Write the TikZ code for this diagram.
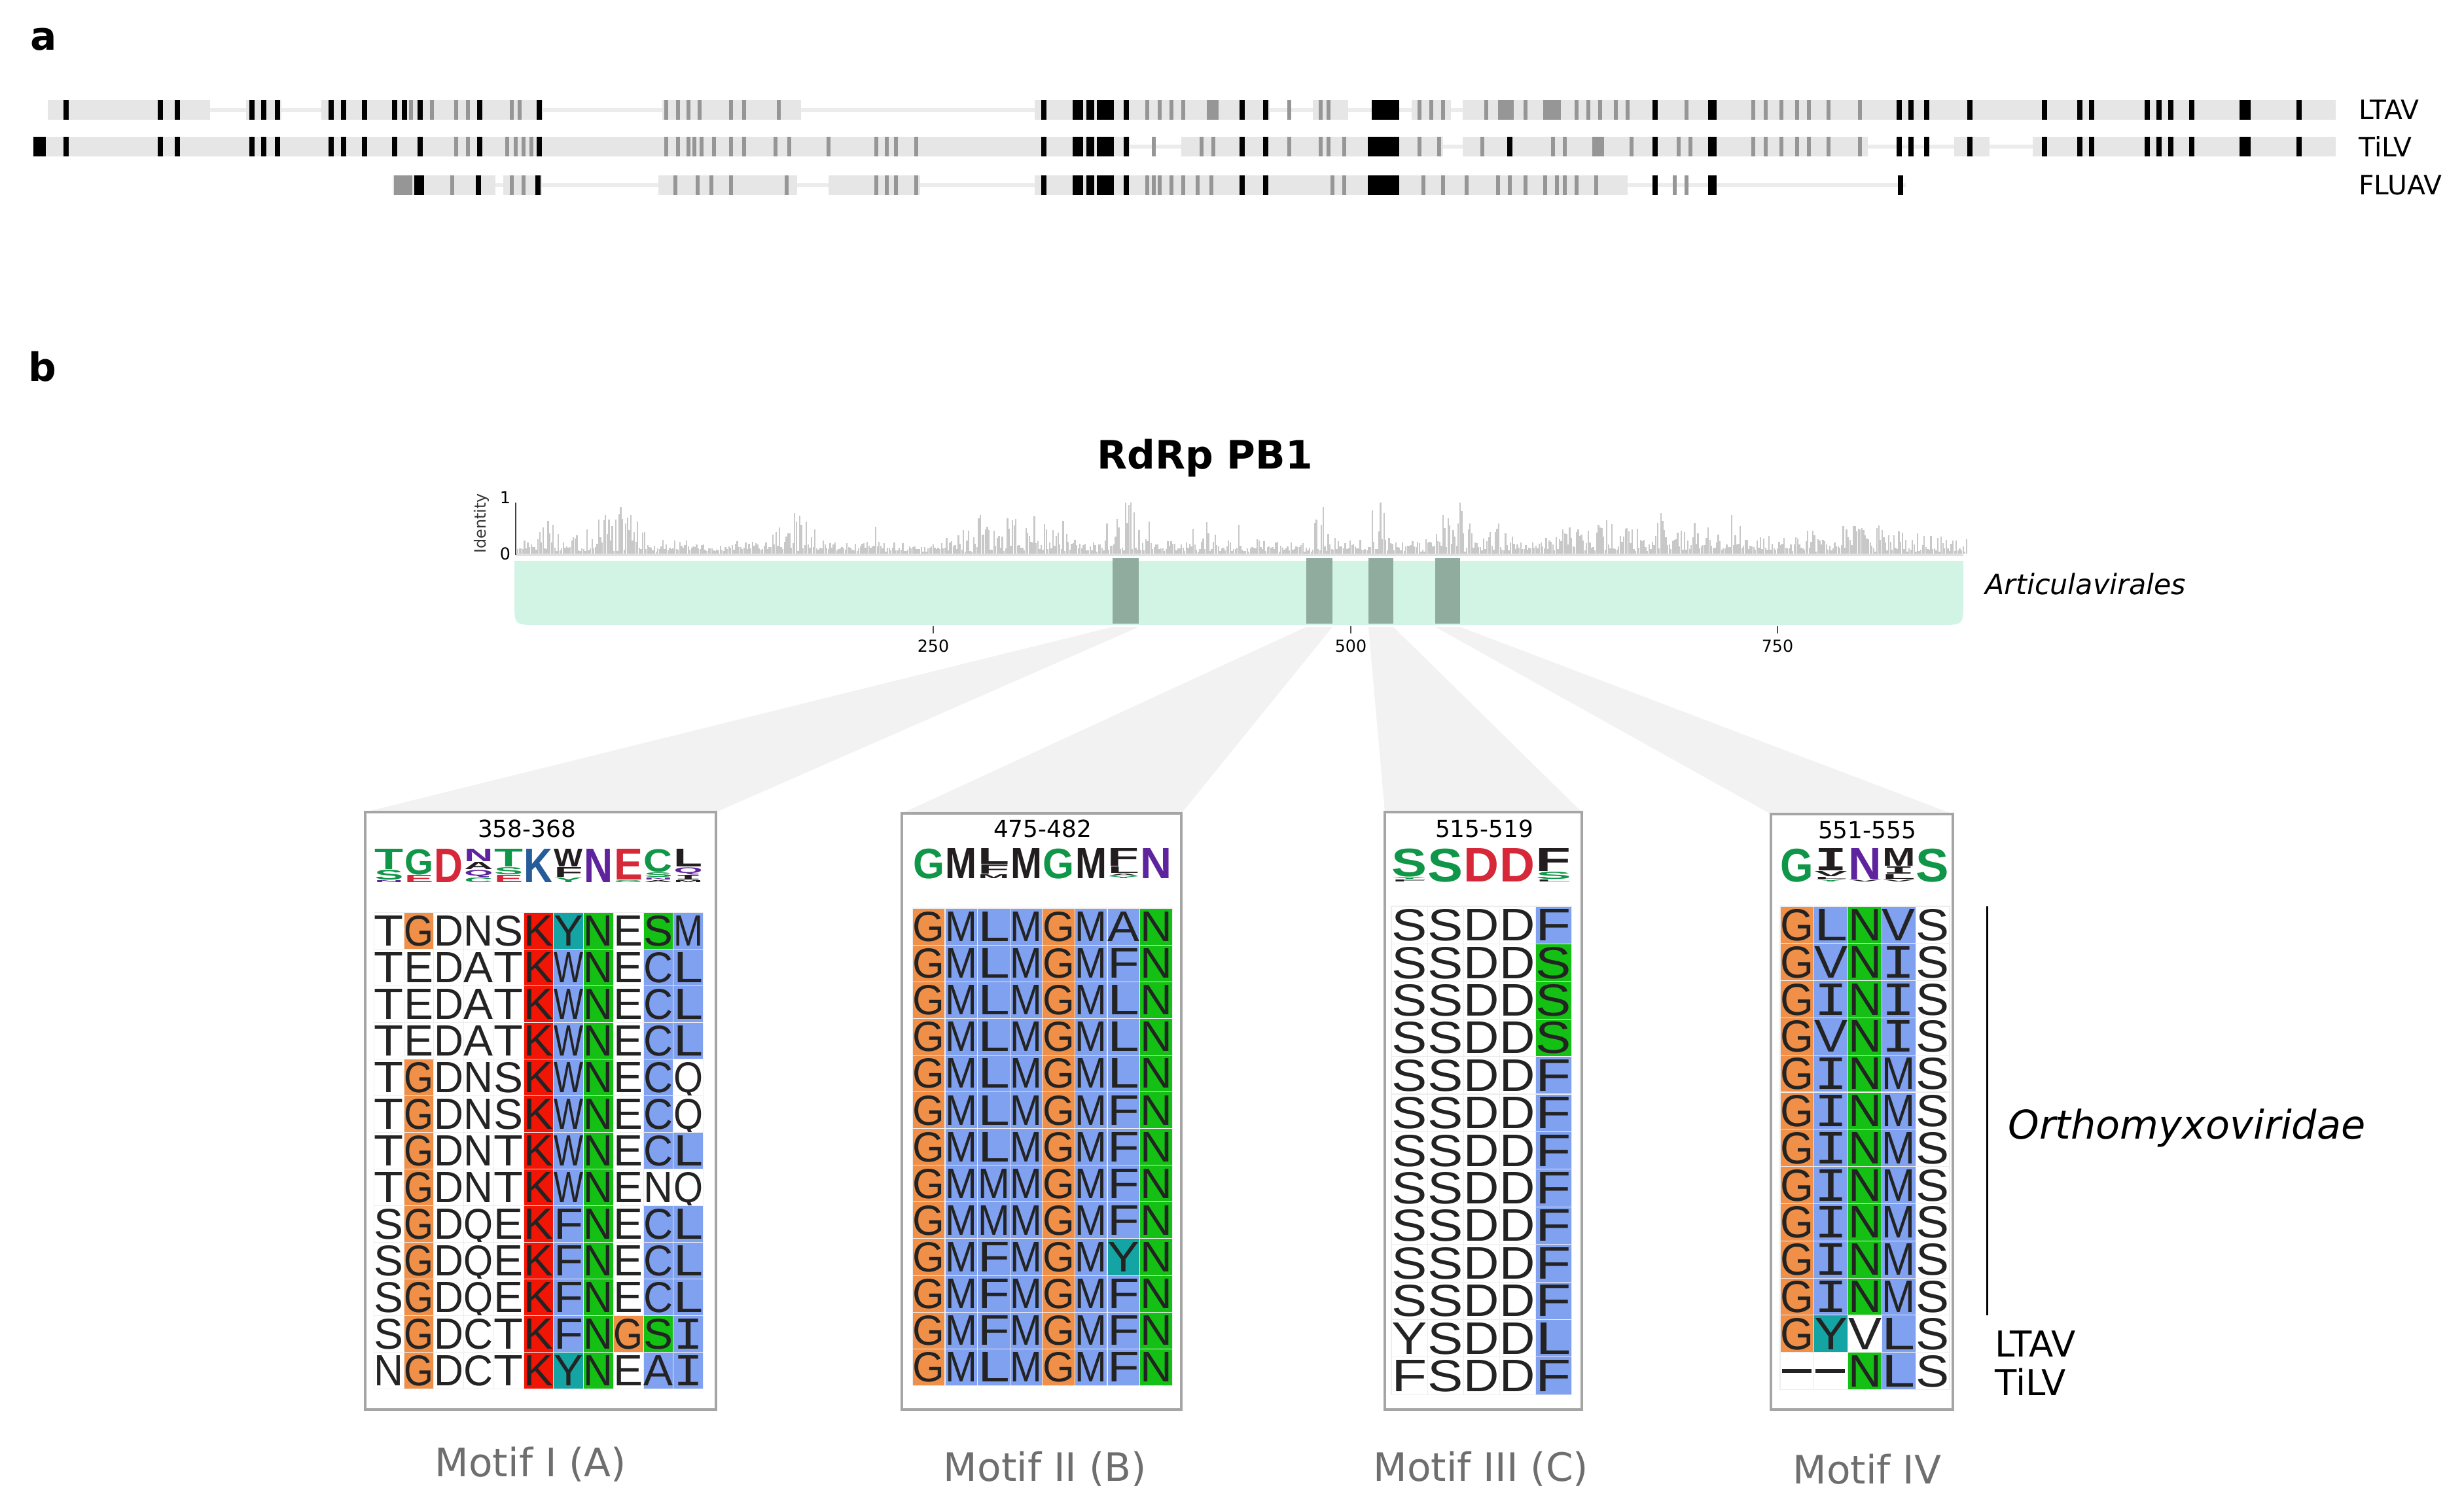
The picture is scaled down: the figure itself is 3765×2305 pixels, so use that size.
\documentclass[tikz,border=0pt]{standalone}
\usepackage{fontspec}
\setmainfont{DejaVu Sans}
\newfontfamily\lib{Liberation Sans}
\newfontfamily\dmono{DejaVu Sans Mono}
\newdimen\pxu \pxu=0.01cm
\newcommand\LI{{\dmono I}}
\definecolor{barc}{RGB}{210,244,229}
\definecolor{bandc}{RGB}{143,172,159}
\definecolor{fanc}{RGB}{242,242,242}
\definecolor{idg}{RGB}{200,200,200}
\definecolor{blkc}{RGB}{230,230,230}
\definecolor{gmk}{RGB}{150,150,150}
\definecolor{trl}{RGB}{236,236,236}
\definecolor{colo}{HTML}{F09048}
\definecolor{colr}{HTML}{F01505}
\definecolor{colc}{HTML}{15A4A4}
\definecolor{colb}{HTML}{80A0F0}
\definecolor{colg}{HTML}{15C015}
\definecolor{colw}{RGB}{255,255,255}
\definecolor{alt}{RGB}{35,35,35}
\definecolor{lgg}{RGB}{16,150,72}
\definecolor{lgp}{RGB}{94,35,157}
\definecolor{lgb}{RGB}{37,92,153}
\definecolor{lgr}{RGB}{214,40,57}
\definecolor{lgk}{RGB}{34,30,31}
\definecolor{boxc}{RGB}{165,165,165}
\definecolor{motc}{RGB}{110,110,110}
\newcommand\tspans[5]{\foreach \sa/\sb in {#5}{\fill[#4] ({#1+\sa*#2},#3) rectangle ({#1+\sb*#2},{#3+30});}}
\newcommand\tmarks[6]{\foreach \sa in {#6}{\fill[#4] ({#1+\sa*#2-#5},#3) rectangle ++({2*#5},30);}}
\newcommand\alrow[7]{\foreach \aL/\aC [count=\k from 0] in #7 {%
  \fill[fill=col\aC, draw=black!7, line width=0.3pt] ({#1+\k*#3},{#2}) rectangle ++({#3},{#4});
  \node[inner sep=0pt, anchor=base, text=alt] at ({#1+\k*#3+0.5*#3},{#2+0.5*#4+0.5*#6}) {\resizebox{#5\pxu}{#6\pxu}{\lib\aL}};}}
\newcommand\lgl[6]{\node[anchor=south,inner sep=0pt,text=lg#6] at ({#1},{#2-0.5}) {\resizebox*{#3\pxu}{\dimexpr#4\pxu-1\pxu\relax}{\lib\bfseries #5}};}
\tikzset{
  blkf/.style={fill=blkc}, bm/.style={fill=black}, gm/.style={fill=gmk},
  trkline/.style={draw=trl, line width=1.7pt},
  boxs/.style={draw=boxc, line width=1.3pt, fill=white},
  tickl/.style={draw=black!70, line width=0.4pt},
}
\begin{document}
\begin{tikzpicture}[x=0.01cm,y=-0.01cm]
\useasboundingbox (0,0) rectangle (3765,2305);
\fill[white] (0,0) rectangle (3765,2305);
\def\zfa{1.2117}\def\zfb{1.2022}
% ---------------- panel a
\node (pa) at (67,60) {\fontsize{17}{20}\selectfont\bfseries a};
% LTAV
\draw[trkline] ({60*\zfa},168) -- ({1880+1405*\zfb},168);
\tspans{0}{\zfa}{153}{blkf}{60/265,310/355,405/685,835/1010,1305/1568}
\tmarks{0}{\zfa}{153}{gm}{3}{518,545,575,590,645,655,840,855,868,882,922,938,982,1447,1462,1477,1492}
\tspans{0}{\zfa}{153}{gm}{1522/1537}
\tmarks{0}{\zfa}{153}{bm}{4}{83,202,224,318,333,350,418,433,460,498,510,530,605,680,1316,1420}
\tspans{0}{\zfa}{153}{bm}{1353/1366,1370/1380,1383/1405}
\tspans{1880}{\zfb}{153}{blkf}{0/50,105/150,230/280,295/1405}
\tmarks{1880}{\zfb}{153}{gm}{3}{75,115,125,240,255,270,325,375,440,455,470,490,505,580,665,680,700,720,735,760,800}
\tspans{1880}{\zfb}{153}{gm}{340/360,398/420}
\tmarks{1880}{\zfb}{153}{bm}{4}{15,45,540,850,865,885,940,1035,1080,1095,1165,1180,1195,1222,1358}
\tspans{1880}{\zfb}{153}{bm}{180/215,607/618,1283/1297}
% TiLV
\draw[trkline] ({42*\zfa},224) -- ({1880+1405*\zfb},224);
\tspans{0}{\zfa}{209}{blkf}{42/1425,1490/1568}
\tmarks{0}{\zfa}{209}{gm}{3}{575,590,640,650,660,670,840,855,868,876,885,900,922,938,978,995,1045,1105,1118,1130,1155,1455,1515,1530}
\tmarks{0}{\zfa}{209}{bm}{4}{83,202,224,318,333,350,418,433,460,498,530,605,680,1316,1420}
\tspans{0}{\zfa}{209}{bm}{42/58,1353/1366,1370/1380,1383/1405}
\tspans{1880}{\zfb}{209}{blkf}{0/270,295/810,920/965,1020/1405}
\tmarks{1880}{\zfb}{209}{gm}{3}{75,115,125,145,240,265,320,410,425,510,570,585,665,680,700,720,735,760,800}
\tspans{1880}{\zfb}{209}{gm}{460/475}
\tmarks{1880}{\zfb}{209}{bm}{4}{15,45,355,540,850,865,885,940,1035,1080,1095,1165,1180,1195,1222,1358}
\tspans{1880}{\zfb}{209}{bm}{175/215,607/618,1283/1297}
% FLUAV
\draw[trkline] ({495*\zfa},283) -- ({1880+858*\zfb},283);
\tspans{0}{\zfa}{268}{blkf}{495/625,635/683,830/1005,1045/1160,1305/1568}
\tspans{0}{\zfa}{268}{gm}{497/520}
\tmarks{0}{\zfa}{268}{gm}{3}{570,645,660,852,880,897,922,992,1105,1118,1130,1155,1447,1455,1462,1477,1492,1510,1528}
\tmarks{0}{\zfa}{268}{bm}{4}{603,678,1316,1420}
\tspans{0}{\zfa}{268}{bm}{522/535,1353/1366,1370/1380,1383/1405}
\tspans{1880}{\zfb}{268}{blkf}{0/505}
\tmarks{1880}{\zfb}{268}{gm}{3}{130,145,245,270,300,340,355,375,400,415,425,440,465,565,580}
\tmarks{1880}{\zfb}{268}{bm}{4}{15,45,540,852}
\tspans{1880}{\zfb}{268}{bm}{175/215,607/618}
\node[anchor=west] (la1) at (3592,168) {\fontsize{11.6}{13}\selectfont LTAV};
\node[anchor=west] (la2) at (3592,224) {\fontsize{11.6}{13}\selectfont TiLV};
\node[anchor=west] (la3) at (3592,283) {\fontsize{11.6}{13}\selectfont FLUAV};
% ---------------- panel b
\node (pb) at (65,560) {\fontsize{17}{20}\selectfont\bfseries b};
\node (title) at (1841,700) {\fontsize{17}{20}\selectfont\bfseries RdRp PB1};
% identity plot
\pgfmathsetseed{12}
\foreach \i in {0,...,858}{
  \pgfmathsetmacro\xx{790+\i*2.58}
  \pgfmathsetmacro\ra{rnd}\pgfmathsetmacro\rb{rnd}\pgfmathsetmacro\rc{rnd}
  \pgfmathsetmacro\amp{0.18+0.55*max(0,1-abs(\xx-845)/35)+0.75*max(0,1-abs(\xx-940)/70)+0.7*max(0,1-abs(\xx-1215)/45)+0.85*max(0,1-abs(\xx-1540)/110)+0.95*max(0,1-abs(\xx-1720)/35)+0.6*max(0,1-abs(\xx-1843)/35)+0.95*max(0,1-abs(\xx-2015)/25)+0.95*max(0,1-abs(\xx-2108)/18)+0.9*max(0,1-abs(\xx-2225)/40)+0.7*max(0,1-abs(\xx-2292)/30)+0.45*max(0,1-abs(\xx-2440)/120)+0.8*max(0,1-abs(\xx-2531)/15)+0.4*max(0,1-abs(\xx-2600)/70)+0.35*max(0,1-abs(\xx-2840)/200)}
  \pgfmathsetmacro\hh{min(1,0.03+0.08*\ra + \amp*\rb*\rb + (\rc<0.02 ? 0.4 : 0))}
  \fill[idg] (\xx,846) rectangle ++(2.3,{-78*\hh});
}
\fill[black!12] (788,846) rectangle (3000,850);
\draw[black!75, line width=0.5pt] (788,768) -- (788,848);
\node[rotate=90] (idl) at (736,800) {\fontsize{6.8}{8}\selectfont\color{black!80}Identity};
\node (id1) at (772,760) {\fontsize{7.2}{8}\selectfont 1};
\node (id0) at (772,846) {\fontsize{7.2}{8}\selectfont 0};
% bar
\fill[barc] (786,857) -- (3000,857) -- (3000,920) .. controls (3000,955) .. (2965,955) -- (821,955) .. controls (786,955) .. (786,920) -- cycle;
\foreach \a/\b [count=\n] in {1700/1740,1996/2036,2091/2129,2193/2231}{
  \fill[bandc] (\a,853) rectangle (\b,953);
  \coordinate (fa\n) at (\a,958);
  \coordinate (fb\n) at (\b,958);
}
\node (art) [anchor=west] at (3021,892) {\fontsize{12.2}{14}\selectfont\itshape Articulavirales};
\foreach \x/\t in {1426/250,2064/500,2716/750}{
  \draw[tickl] (\x,957) -- (\x,968);
  \node (tk\t) at (\x,987) {\fontsize{7.2}{8}\selectfont \t};
}
% boxes
\coordinate (b1l) at (558,1241); \coordinate (b1r) at (1094,1241);
\coordinate (b2l) at (1378,1243); \coordinate (b2r) at (1805,1243);
\coordinate (b3l) at (2116,1241); \coordinate (b3r) at (2417,1241);
\coordinate (b4l) at (2706,1244); \coordinate (b4r) at (2984,1244);
\foreach \n in {1,2,3,4}{\fill[fanc] (fa\n) -- (fb\n) -- (b\n r) -- (b\n l) -- cycle;}
\draw[boxs] (b1l) rectangle (1094,2154);
\draw[boxs] (b2l) rectangle (1805,2154);
\draw[boxs] (b3l) rectangle (2417,2154);
\draw[boxs] (b4l) rectangle (2984,2154);
\node (r1) at (805,1266) {\fontsize{10.2}{12}\selectfont 358-368};
\node (r2) at (1593,1266) {\fontsize{10.2}{12}\selectfont 475-482};
\node (r3) at (2268,1266) {\fontsize{10.2}{12}\selectfont 515-519};
\node (r4) at (2853,1269) {\fontsize{10.2}{12}\selectfont 551-555};
% logos
\foreach \col [count=\k from 0] in {{N/p/0/4,S/g/4/16,T/g/20/32},{E/r/0/12,G/g/12/40},{D/r/0/52},{C/g/0/8,Q/p/8/12,A/k/20/12,N/p/32/20},{E/r/0/12,S/g/12/12,T/g/24/28},{K/b/0/52},{Y/g/0/8,F/k/8/16,W/k/24/28},{N/p/0/52},{G/g/0/4,E/r/4/48},{A/k/0/4,N/p/4/4,S/g/8/8,C/g/16/36},{M/k/0/4,\LI/k/4/8,Q/p/12/12,L/k/24/28}}{
  \foreach \aL/\aC/\oo/\hh in \col {\lgl{571.4+(\k+0.5)*45.74}{1350-\oo}{44}{\hh}{\aL}{\aC}}}
\foreach \col [count=\k from 0] in {{G/g/0/47},{M/k/0/47},{M/k/0/7,F/k/7/15,L/k/22/25},{M/k/0/47},{G/g/0/47},{M/k/0/47},{Y/g/0/4,A/k/4/4,L/k/8/11,F/k/19/28},{N/p/0/47}}{
  \foreach \aL/\aC/\oo/\hh in \col {\lgl{1394.4+(\k+0.5)*49.6}{1344-\oo}{48}{\hh}{\aL}{\aC}}}
\foreach \col [count=\k from 0] in {{F/k/0/4,Y/g/4/4,S/g/8/44},{S/g/0/52},{D/r/0/52},{D/r/0/52},{L/k/0/4,S/g/4/12,F/k/16/36}}{
  \foreach \aL/\aC/\oo/\hh in \col {\lgl{2126+(\k+0.5)*55.1}{1349-\oo}{54}{\hh}{\aL}{\aC}}}
\foreach \col [count=\k from 0] in {{G/g/0/52},{Y/g/0/4,L/k/4/4,V/k/8/9,\LI/k/17/35},{V/k/0/4,N/p/4/48},{V/k/0/4,L/k/4/8,\LI/k/12/12,M/k/24/28},{S/g/0/52}}{
  \foreach \aL/\aC/\oo/\hh in \col {\lgl{2720+(\k+0.5)*51.8}{1349-\oo}{50.5}{\hh}{\aL}{\aC}}}
% alignment motif I
\foreach \row [count=\ri from 0] in {
{T/w,G/o,D/w,N/w,S/w,K/r,Y/c,N/g,E/w,S/g,M/b},
{T/w,E/w,D/w,A/w,T/w,K/r,W/b,N/g,E/w,C/b,L/b},
{T/w,E/w,D/w,A/w,T/w,K/r,W/b,N/g,E/w,C/b,L/b},
{T/w,E/w,D/w,A/w,T/w,K/r,W/b,N/g,E/w,C/b,L/b},
{T/w,G/o,D/w,N/w,S/w,K/r,W/b,N/g,E/w,C/b,Q/w},
{T/w,G/o,D/w,N/w,S/w,K/r,W/b,N/g,E/w,C/b,Q/w},
{T/w,G/o,D/w,N/w,T/w,K/r,W/b,N/g,E/w,C/b,L/b},
{T/w,G/o,D/w,N/w,T/w,K/r,W/b,N/g,E/w,N/w,Q/w},
{S/w,G/o,D/w,Q/w,E/w,K/r,F/b,N/g,E/w,C/b,L/b},
{S/w,G/o,D/w,Q/w,E/w,K/r,F/b,N/g,E/w,C/b,L/b},
{S/w,G/o,D/w,Q/w,E/w,K/r,F/b,N/g,E/w,C/b,L/b},
{S/w,G/o,D/w,C/w,T/w,K/r,F/b,N/g,G/o,S/g,\LI/b},
{N/w,G/o,D/w,C/w,T/w,K/r,Y/c,N/g,E/w,A/b,\LI/b}}
{\alrow{571.4}{1394.5+\ri*56}{45.74}{56}{45}{46}{\row}}
% motif II
\foreach \row [count=\ri from 0] in {
{G/o,M/b,L/b,M/b,G/o,M/b,A/b,N/g},
{G/o,M/b,L/b,M/b,G/o,M/b,F/b,N/g},
{G/o,M/b,L/b,M/b,G/o,M/b,L/b,N/g},
{G/o,M/b,L/b,M/b,G/o,M/b,L/b,N/g},
{G/o,M/b,L/b,M/b,G/o,M/b,L/b,N/g},
{G/o,M/b,L/b,M/b,G/o,M/b,F/b,N/g},
{G/o,M/b,L/b,M/b,G/o,M/b,F/b,N/g},
{G/o,M/b,M/b,M/b,G/o,M/b,F/b,N/g},
{G/o,M/b,M/b,M/b,G/o,M/b,F/b,N/g},
{G/o,M/b,F/b,M/b,G/o,M/b,Y/c,N/g},
{G/o,M/b,F/b,M/b,G/o,M/b,F/b,N/g},
{G/o,M/b,F/b,M/b,G/o,M/b,F/b,N/g},
{G/o,M/b,L/b,M/b,G/o,M/b,F/b,N/g}}
{\alrow{1394.4}{1388+\ri*56.1}{49.6}{56.1}{48.8}{45}{\row}}
% motif III
\foreach \row [count=\ri from 0] in {
{S/w,S/w,D/w,D/w,F/b},
{S/w,S/w,D/w,D/w,S/g},
{S/w,S/w,D/w,D/w,S/g},
{S/w,S/w,D/w,D/w,S/g},
{S/w,S/w,D/w,D/w,F/b},
{S/w,S/w,D/w,D/w,F/b},
{S/w,S/w,D/w,D/w,F/b},
{S/w,S/w,D/w,D/w,F/b},
{S/w,S/w,D/w,D/w,F/b},
{S/w,S/w,D/w,D/w,F/b},
{S/w,S/w,D/w,D/w,F/b},
{Y/w,S/w,D/w,D/w,L/b},
{F/w,S/w,D/w,D/w,F/b}}
{\alrow{2126}{1385+\ri*57.4}{55.1}{57.4}{54.3}{48}{\row}}
% motif IV
\foreach \row [count=\ri from 0] in {
{G/o,L/b,N/g,V/b,S/w},
{G/o,V/b,N/g,\LI/b,S/w},
{G/o,\LI/b,N/g,\LI/b,S/w},
{G/o,V/b,N/g,\LI/b,S/w},
{G/o,\LI/b,N/g,M/b,S/w},
{G/o,\LI/b,N/g,M/b,S/w},
{G/o,\LI/b,N/g,M/b,S/w},
{G/o,\LI/b,N/g,M/b,S/w},
{G/o,\LI/b,N/g,M/b,S/w},
{G/o,\LI/b,N/g,M/b,S/w},
{G/o,\LI/b,N/g,M/b,S/w},
{G/o,Y/c,V/w,L/b,S/w}}
{\alrow{2720}{1385+\ri*56.8}{51.8}{56.8}{51}{48}{\row}}
\def\lastrow{N/g,L/b,S/w}
\alrow{2720+2*51.8}{1385+12*56.8}{51.8}{56.8}{51}{48}{\lastrow}
\fill[white, draw=black!7, line width=0.3pt] (2720,2066.6) rectangle ++(51.8,56.8);
\fill[white, draw=black!7, line width=0.3pt] (2771.8,2066.6) rectangle ++(51.8,56.8);
\fill[alt] (2723,2092) rectangle (2768,2098);
\fill[alt] (2774,2092) rectangle (2819,2098);
% right labels
\draw[black, line width=0.85pt] (3036,1385) -- (3036,2010);
\node[anchor=west] (orth) at (3056,1724) {\fontsize{17.2}{20}\selectfont\itshape Orthomyxoviridae};
\node[anchor=west] (lb1) at (3036,2054) {\fontsize{15.5}{18}\selectfont LTAV};
\node[anchor=west] (lb2) at (3036,2112) {\fontsize{15.5}{18}\selectfont TiLV};
% motif labels
\node[text=motc] (m1) at (811,2238) {\fontsize{17}{20}\selectfont Motif I (A)};
\node[text=motc] (m2) at (1597,2245) {\fontsize{17}{20}\selectfont Motif II (B)};
\node[text=motc] (m3) at (2263,2245) {\fontsize{17}{20}\selectfont Motif III (C)};
\node[text=motc] (m4) at (2853,2245) {\fontsize{17}{20}\selectfont Motif IV};
\end{tikzpicture}
\end{document}
